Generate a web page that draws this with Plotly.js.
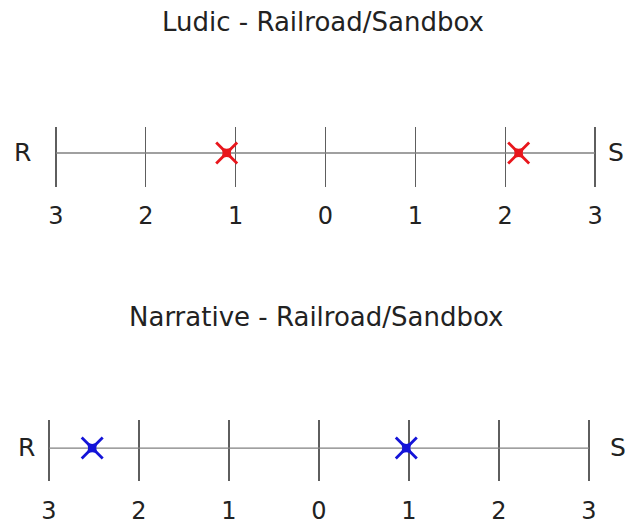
<!DOCTYPE html>
<html>
<head>
<meta charset="utf-8">
<script src="https://cdn.plot.ly/plotly-3.0.1.min.js"></script>
<style>html,body{margin:0;padding:0;background:#fff;}#chart{width:625px;height:525px;}</style>
</head>
<body>
<div id="chart"></div>
<script>
// ---- data ----
const tickVals = [-3, -2, -1, 0, 1, 2, 3];
const tickLabels = ["3", "2", "1", "0", "1", "2", "3"];
const ludicTitle = "Ludic - Railroad/Sandbox";
const narrativeTitle = "Narrative - Railroad/Sandbox";
const leftLabel = "R";
const rightLabel = "S";
const ludicValues = [-1.1, 2.15];
const narrativeValues = [-2.52, 0.97];

// ---- styling ----
const FONT = "DejaVu Sans, Verdana, sans-serif";
const TXT = "#222";
const LINE = "#5e5e5e";

function baseLine(xa, ya) {
  return {
    x: [tickVals[0], tickVals[tickVals.length - 1]],
    y: [0, 0],
    xaxis: xa, yaxis: ya,
    mode: "lines",
    line: {color: "#808080", width: 1.3},
    hoverinfo: "skip", showlegend: false
  };
}
function marksArms(vals, color, xa, ya) {
  return {
    x: vals,
    y: vals.map(() => 0),
    xaxis: xa, yaxis: ya,
    mode: "markers",
    marker: {symbol: "x-thin", size: 21, color: color,
             line: {width: 2.8, color: color}},
    showlegend: false
  };
}
function marksCore(vals, color, xa, ya) {
  return {
    x: vals,
    y: vals.map(() => 0),
    xaxis: xa, yaxis: ya,
    mode: "markers",
    marker: {symbol: "star-diamond", angle: 45, size: 12, color: color,
             line: {width: 0}},
    showlegend: false
  };
}

const data = [
  baseLine("x", "y"),
  marksArms(ludicValues, "#e8161c", "x", "y"),
  marksCore(ludicValues, "#e8161c", "x", "y"),
  baseLine("x2", "y2"),
  marksArms(narrativeValues, "#1414d8", "x2", "y2"),
  marksCore(narrativeValues, "#1414d8", "x2", "y2")
];

function xax(domain, anchor, standoff) {
  return {
    domain: domain, anchor: anchor, range: [-3.1, 3.1],
    tickmode: "array", tickvals: tickVals, ticktext: tickLabels,
    showgrid: true, gridcolor: LINE, gridwidth: 1.3,
    zeroline: false, showline: false, ticks: "",
    tickfont: {family: FONT, size: 24, color: TXT},
    ticklabelstandoff: standoff,
    fixedrange: true
  };
}
function yax(domain, range, anchor) {
  return {
    domain: domain, anchor: anchor, range: range,
    showgrid: false, zeroline: false, showline: false,
    showticklabels: false, ticks: "", fixedrange: true
  };
}

const ann = (text, x, y, xanchor, size) => ({
  text: text, xref: "paper", yref: "paper", x: x, y: y,
  xanchor: xanchor, yanchor: "middle", showarrow: false,
  font: {family: FONT, size: size || 25, color: TXT}
});

const layout = {
  width: 625, height: 525,
  margin: {l: 0, r: 0, t: 0, b: 0},
  paper_bgcolor: "#fff", plot_bgcolor: "rgba(0,0,0,0)",
  showlegend: false,
  xaxis: xax([0.0752, 0.9664], "y", 12),
  yaxis: yax([0.6438, 0.7581], [-1.134, 0.866], "x"),
  xaxis2: xax([0.064, 0.9568], "y2", 13),
  yaxis2: yax([0.0838, 0.2], [-1.08, 0.92], "x2"),
  annotations: [
    ann(ludicTitle, 0.5168, 0.958, "center", 26),
    ann(narrativeTitle, 0.5056, 0.396, "center", 26),
    ann(leftLabel, 0.0352, 0.7086, "center"),
    ann(rightLabel, 0.970, 0.7086, "left"),
    ann(leftLabel, 0.0416, 0.1467, "center"),
    ann(rightLabel, 0.973, 0.1467, "left")
  ]
};

Plotly.newPlot("chart", data, layout, {staticPlot: true, displayModeBar: false});
</script>
</body>
</html>
